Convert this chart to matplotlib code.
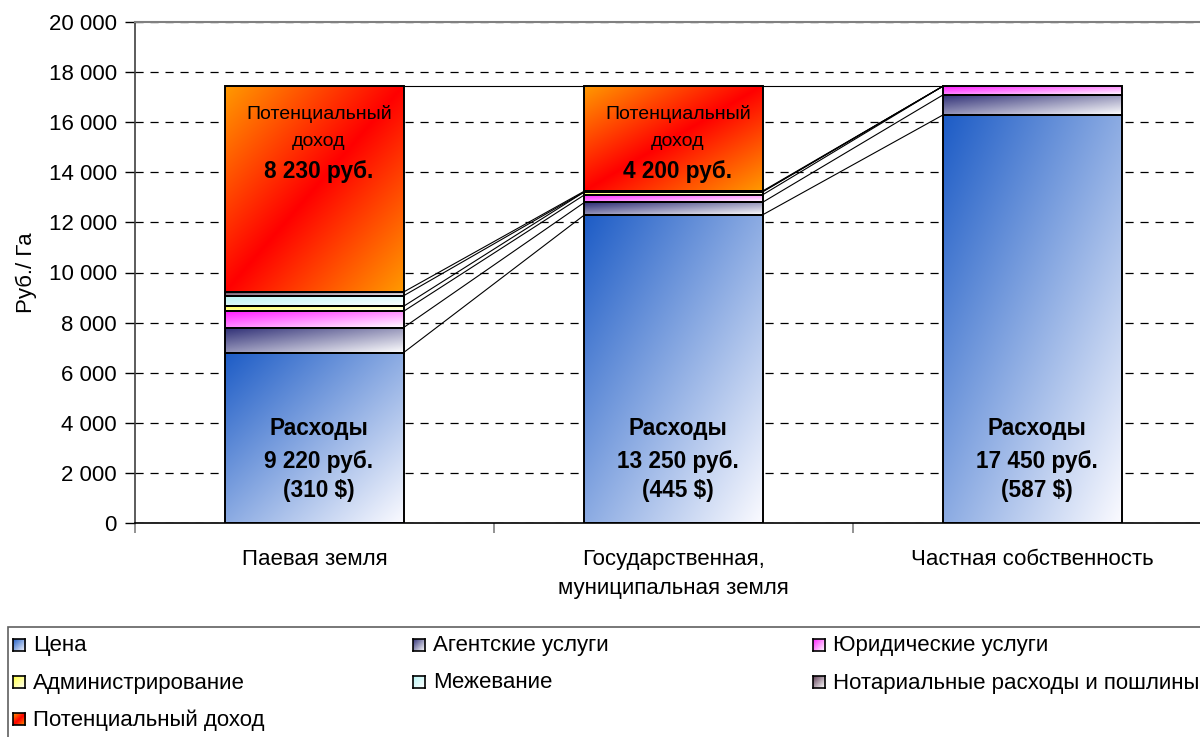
import numpy as np
import matplotlib
matplotlib.use('Agg')
import matplotlib.pyplot as plt
from matplotlib.patches import Rectangle
from matplotlib.ticker import FuncFormatter

plt.rcParams['font.family'] = ['Liberation Sans', 'DejaVu Sans']

# ---------------- data ----------------
categories = ['Паевая земля', 'Государственная,\nмуниципальная земля', 'Частная собственность']
series_names = ['Цена', 'Агентские услуги', 'Юридические услуги', 'Администрирование',
                'Межевание', 'Нотариальные расходы и пошлины', 'Потенциальный доход']
price = [6800, 12300, 16300]
agent = [1000, 500, 800]
legal = [650, 300, 350]
admin = [200, 120, 0]
survey = [420, 0, 0]
notary = [150, 30, 0]
potential = [8230, 4200, 0]
costs_rub = ['9 220', '13 250', '17 450']
costs_usd = [310, 445, 587]
potential_txt = ['8 230', '4 200', '']
yticks = [0, 2000, 4000, 6000, 8000, 10000, 12000, 14000, 16000, 18000, 20000]

series = [price, agent, legal, admin, survey, notary, potential]
# gradient colours (start at top-left, end at bottom-right)
grad_start = ['#1d5cc6', '#2c2c74', '#ff1cff', '#ffff40', '#b8f4f4', '#604058', '#ff0000']
grad_end = ['#fafaff', '#ffffff', '#ffffff', '#ffffff', '#ffffff', '#ffffff', '#ff9900']
grad_kind = ['linear'] * 6 + ['center']

FS = 16

W, H = 1200, 737
fig = plt.figure(figsize=(W / 100, H / 100), dpi=100)
ax = fig.add_axes([135 / W, (H - 523) / H, 1077 / W, 501 / H])


def hexrgb(h):
    h = h.lstrip('#')
    return np.array([int(h[i:i + 2], 16) / 255 for i in (0, 2, 4)])


def grad_img(c0, c1, kind, n=80):
    u = np.linspace(0, 1, n)
    U, V = np.meshgrid(u, u)
    t = (U + V) / 2
    if kind == 'center':
        t = np.abs(2 * t - 1)
    a, b = hexrgb(c0), hexrgb(c1)
    return a[None, None, :] * (1 - t)[..., None] + b[None, None, :] * t[..., None]


bw = 0.496
x = np.arange(len(categories))
bottom = np.zeros(len(categories))
cum_levels = []
for s, vals in enumerate(series):
    vals = np.array(vals, dtype=float)
    for i in range(len(categories)):
        if vals[i] <= 0:
            continue
        x0, x1 = x[i] - bw / 2, x[i] + bw / 2
        y0, y1 = bottom[i], bottom[i] + vals[i]
        ax.imshow(grad_img(grad_start[s], grad_end[s], grad_kind[s]),
                  extent=(x0, x1, y0, y1), origin='upper', aspect='auto',
                  interpolation='bilinear', zorder=2)
        ax.add_patch(Rectangle((x0, y0), x1 - x0, y1 - y0, fill=False,
                               ec='black', lw=1.4, zorder=3))
    bottom = bottom + vals
    cum_levels.append(bottom.copy())

# series lines
for lvl in cum_levels:
    for i in range(len(categories) - 1):
        ax.plot([x[i] + bw / 2, x[i + 1] - bw / 2], [lvl[i], lvl[i + 1]],
                color='black', lw=0.8, zorder=1.5)

# texts in bars
for i in range(len(categories)):
    cx = x[i] + 0.012
    ax.text(cx, 3790, 'Расходы', ha='center', va='center', fontsize=FS + 0.3,
            fontweight='bold', zorder=5)
    ax.text(cx, 2470, f'{costs_rub[i]} руб.', ha='center', va='center', fontsize=FS + 0.3,
            fontweight='bold', zorder=5)
    ax.text(cx, 1310, f'({costs_usd[i]} $)', ha='center', va='center', fontsize=FS + 0.3,
            fontweight='bold', zorder=5)
    if potential[i] > 0:
        ax.text(cx, 16340, 'Потенциальный', ha='center', va='center', fontsize=14,
                zorder=5)
        ax.text(cx, 15220, 'доход', ha='center', va='center', fontsize=14, zorder=5)
        ax.text(cx, 14030, f'{potential_txt[i]} руб.', ha='center', va='center',
                fontsize=FS + 0.3, fontweight='bold', zorder=5)

ax.set_xlim(-0.5, 2.5)
ax.set_ylim(0, 20000)
ax.set_yticks(yticks)
ax.yaxis.set_major_formatter(FuncFormatter(lambda v, p: f'{int(v):,}'.replace(',', ' ')))
ax.tick_params(axis='y', direction='out', length=7, width=1, labelsize=FS, pad=6)
ax.set_xticks(x)
ax.set_xticklabels(categories, fontsize=FS, linespacing=1.5)
ax.tick_params(axis='x', which='major', length=0, pad=19)
ax.set_xticks([-0.5, 0.5, 1.5, 2.5], minor=True)
ax.tick_params(axis='x', which='minor', direction='out', length=7, color='#808080', width=1.2)

ax.yaxis.grid(True, linestyle=(0, (6.5, 5.5)), color='black', lw=0.9)
ax.set_axisbelow(True)
ax.spines['right'].set_visible(False)
ax.spines['top'].set_color('#808080')
ax.spines['top'].set_linewidth(1.5)
ax.spines['left'].set_color('#404040')
ax.spines['left'].set_linewidth(1.2)
ax.spines['bottom'].set_linewidth(1.2)

ax.set_ylabel('Руб./ Га', fontsize=FS)
ax.yaxis.set_label_coords((37 - 135) / 1077, 0.5)

# legend (manual layout)
fig.add_artist(Rectangle((8 / W, 1 - 748 / H), 1200 / W, 121 / H, transform=fig.transFigure,
                         fill=False, ec='#606060', lw=1.2))
for k, name in enumerate(series_names):
    col, row = k % 3, k // 3
    lx = 13 + col * 400
    ly = 645 + row * 37
    sq = fig.add_axes([lx / W, 1 - (ly + 6) / H, 12 / W, 12 / H])
    sq.imshow(grad_img(grad_start[k], grad_end[k], grad_kind[k], n=20), aspect='auto',
              interpolation='bilinear')
    sq.set_xticks([])
    sq.set_yticks([])
    for sp in sq.spines.values():
        sp.set_linewidth(1.2)
        sp.set_color('black')
    fig.text((lx + 20) / W, 1 - (ly + 1) / H, name, fontsize=FS, va='center', ha='left')

fig.savefig('out.png', dpi=100)
